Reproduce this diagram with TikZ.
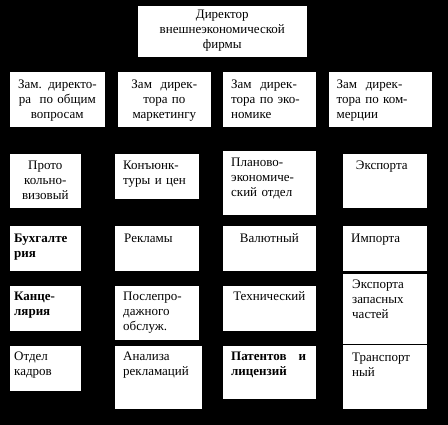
\documentclass[tikz,border=0pt]{standalone}
\usepackage{fontspec}
\setmainfont{Liberation Serif}
\begin{document}
\begin{tikzpicture}[x=1pt,y=-1pt,
  box/.style={draw=black, fill=white, line width=0.6pt, inner sep=0pt, anchor=north west},
  txt/.style={inner sep=0pt, font=\fontsize{13}{15}\selectfont, text=black},
  tl/.style={txt, anchor=north west, align=left},
  tc/.style={txt, anchor=north, align=center},
  bf/.style={font=\fontsize{13}{15}\selectfont\bfseries}
]
\fill[black] (0,0) rectangle (448,425);
\useasboundingbox (0,0) rectangle (448,425);
\newcommand\bx[5]{\node[box, minimum width={#4-#2}, minimum height={#5-#3}] (#1) at (#2,#3) {};}
% boxes
\bx{d}{137}{5}{307}{57}
\bx{z1}{9}{71}{105}{127}
\bx{z2}{117}{71}{211}{127}
\bx{z3}{222}{71}{316}{127}
\bx{z4}{328}{71}{432}{127}
\bx{a1}{9}{153}{81}{208}
\bx{a2}{114}{153}{199}{199}
\bx{a3}{222}{150}{316}{215}
\bx{a4}{342}{153}{427}{208}
\bx{b1}{9}{225}{81}{271}
\bx{b2}{114}{225}{199}{271}
\bx{b3}{222}{225}{316}{271}
\bx{b4}{342}{225}{427}{271}
\bx{c1}{9}{285}{81}{331}
\bx{c2}{114}{285}{199}{340}
\bx{c3}{222}{285}{316}{331}
\bx{c4}{342}{273}{427}{344}
\bx{e1}{9}{345}{81}{391}
\bx{e2}{114}{345}{202}{409}
\bx{e3}{222}{345}{316}{399}
\bx{e4}{342}{344}{427}{409}
% texts
\node[tc, text width=165] (td) at ([yshift=-2.5]d.north) {\strut Директор\\внешнеэкономической\\фирмы};
\node[tc, text width=92] (tz1) at ([yshift=-6.5]z1.north) {\strut Зам. директо-\\ра~~по общим\\вопросам};
\node[tc, text width=90] (tz2) at ([yshift=-6.5]z2.north) {\strut Зам~~дирек-\\тора по\\маркетингу};
\node[tl, text width=82] (tz3) at ([xshift=9,yshift=-6.5]z3.north west) {\strut Зам~~дирек-\\тора по эко-\\номике};
\node[tl, text width=92] (tz4) at ([xshift=8.5,yshift=-6.5]z4.north west) {\strut Зам~~дирек-\\тора по ком-\\мерции};
\node[tc, text width=68] (ta1) at ([yshift=-6]a1.north) {\strut Прото\\кольно-\\визовый};
\node[tl, text width=74] (ta2) at ([xshift=9,yshift=-6]a2.north west) {\strut Конъюнк-\\туры и цен};
\node[tl, text width=84] (ta3) at ([xshift=9,yshift=-6]a3.north west) {\strut Планово-\\экономиче-\\ский отдел};
\node[tc, text width=80] (ta4) at ([xshift=-3,yshift=-6]a4.north) {\strut Экспорта};
\node[tl, bf, text width=66] (tb1) at ([xshift=5,yshift=-6.5]b1.north west) {\strut Бухгалте\\рия};
\node[tl, text width=74] (tb2) at ([xshift=10,yshift=-6.5]b2.north west) {\strut Рекламы};
\node[tc, text width=90] (tb3) at ([yshift=-6.5]b3.north) {\strut Валютный};
\node[tl, text width=74] (tb4) at ([xshift=9,yshift=-6.5]b4.north west) {\strut Импорта};
\node[tl, bf, text width=66] (tc1) at ([xshift=5,yshift=-4.5]c1.north west) {\strut Канце-\\лярия};
\node[tl, text width=74] (tc2) at ([xshift=9,yshift=-4.5]c2.north west) {\strut Послепро-\\дажного\\обслуж.};
\node[tc, text width=90] (tc3) at ([yshift=-4.5]c3.north) {\strut Технический};
\node[tl, text width=74] (tc4) at ([xshift=10,yshift=-4.5]c4.north west) {\strut Экспорта\\запасных\\частей};
\node[tl, text width=66] (te1) at ([xshift=5,yshift=-4.5]e1.north west) {\strut Отдел\\кадров};
\node[tl, text width=77] (te2) at ([xshift=9,yshift=-4.5]e2.north west) {\strut Анализа\\рекламаций};
\node[tl, bf, text width=75] (te3) at ([xshift=9,yshift=-4.5]e3.north west) {\strut Патентов\hfill и\\лицензий};
\node[tl, text width=74] (te4) at ([xshift=10,yshift=-7]e4.north west) {\strut Транспорт\\ный};
\end{tikzpicture}
\end{document}
